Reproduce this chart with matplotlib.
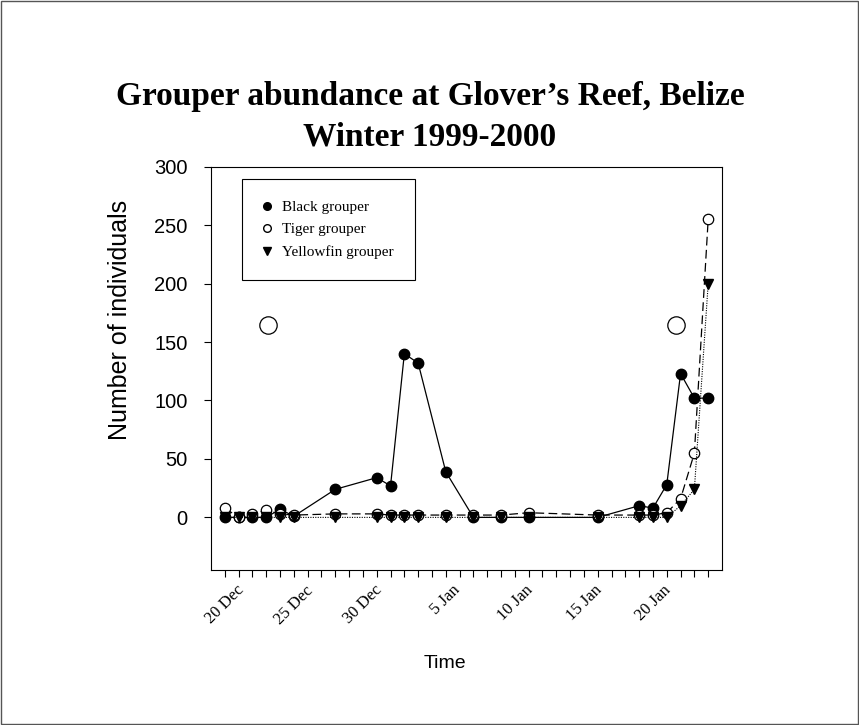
import matplotlib
matplotlib.use("Agg")
import matplotlib.pyplot as plt
from matplotlib.lines import Line2D
from matplotlib.patches import Rectangle

# sampling days, counted from 20 Dec 1999
days = [0, 1, 2, 3, 4, 5, 8, 11, 12, 13, 14, 16, 18, 20, 22, 27, 30, 31, 32, 33, 34, 35]
black = [0, 0, 0, 0, 7, 1, 24, 34, 27, 140, 132, 39, 0, 0, 0, 0, 10, 8, 28, 123, 102, 102]
tiger = [8, 0, 3, 6, 3, 2, 3, 3, 2, 2, 2, 2, 2, 2, 4, 2, 2, 2, 4, 16, 55, 255]
yellowfin = [0, 0, 0, 0, 0, 0, 0, 0, 0, 0, 0, 0, 0, 0, 0, 0, 0, 0, 0, 10, 24, 200]

# full moon symbols
moon_days = [3.1, 32.7]
moon_level = [165, 165]

tick_days = list(range(0, 36))
label_days = [0, 5, 10, 16, 21, 26, 31]
label_text = ["20 Dec", "25 Dec", "30 Dec", "5 Jan", "10 Jan", "15 Jan", "20 Jan"]

SERIF = "Liberation Serif"
SANS = "Liberation Sans"

fig = plt.figure(figsize=(8.59, 7.25), dpi=100)
ax = fig.add_axes([211 / 859, 1 - 570 / 725, 511 / 859, 403.3 / 725])

ms = 7.5
ax.plot(days, black, "-", color="black", lw=0.9, marker="o", ms=ms,
        mfc="black", mec="black", zorder=3)
ax.plot(days, tiger, color="black", lw=0.9, ls=(0, (7, 3.5)), marker="o", ms=ms,
        mfc="white", mec="black", mew=0.9, zorder=4)
ax.plot(days, yellowfin, color="black", lw=0.8, ls=(0, (1, 1.2)), marker="v", ms=ms,
        mfc="black", mec="black", zorder=5)
ax.plot(moon_days, moon_level, "o", ms=12.5, mfc="white", mec="black", mew=0.9, ls="none")

ax.set_xlim(-1, 36)
ax.set_ylim(-45, 300)
ax.set_yticks([0, 50, 100, 150, 200, 250, 300])
ax.set_xticks(tick_days)
labels = []
for d in tick_days:
    labels.append(label_text[label_days.index(d)] if d in label_days else "")
ax.set_xticklabels(labels, rotation=45, ha="center", va="top",
                   fontfamily=SERIF, fontsize=12)
for lab in ax.get_yticklabels():
    lab.set_fontfamily(SANS)
    lab.set_fontsize(14.5)

ax.tick_params(axis="x", direction="out", length=5, width=0.8, pad=4)
ax.tick_params(axis="y", direction="out", length=5, width=0.8, pad=12)
for s in ax.spines.values():
    s.set_linewidth(0.8)

ax.set_ylabel("Number of individuals", fontfamily=SANS, fontsize=18)
ax.yaxis.set_label_coords(-0.155, 0.62)
ax.set_xlabel("Time", fontfamily=SANS, fontsize=14)
ax.xaxis.set_label_coords(0.458, -0.21)

handles = [
    Line2D([], [], ls="none", marker="o", ms=5.5, mfc="black", mec="black"),
    Line2D([], [], ls="none", marker="o", ms=5.5, mfc="white", mec="black"),
    Line2D([], [], ls="none", marker="v", ms=5.5, mfc="black", mec="black"),
]
leg = ax.legend(handles, ["Black grouper", "Tiger grouper", "Yellowfin grouper"],
                loc="upper left", bbox_to_anchor=(0.0607, 0.9695), borderaxespad=0,
                fancybox=False, edgecolor="black", framealpha=1,
                prop={"family": SERIF, "size": 11},
                handlelength=0.5, handletextpad=0.7, borderpad=1.4, labelspacing=0.57)
leg.get_frame().set_linewidth(0.8)

fig.text(0.5006, 1 - 117 / 725,
         "Grouper abundance at Glover\u2019s Reef, Belize\nWinter 1999-2000",
         ha="center", va="center", fontfamily=SERIF, fontweight="bold",
         fontsize=24, linespacing=1.4)

fig.patches.append(Rectangle((0.001, 0.001), 0.998, 0.998, transform=fig.transFigure,
                             fill=False, edgecolor="#555555", lw=1))

fig.savefig("out.png", dpi=100)
